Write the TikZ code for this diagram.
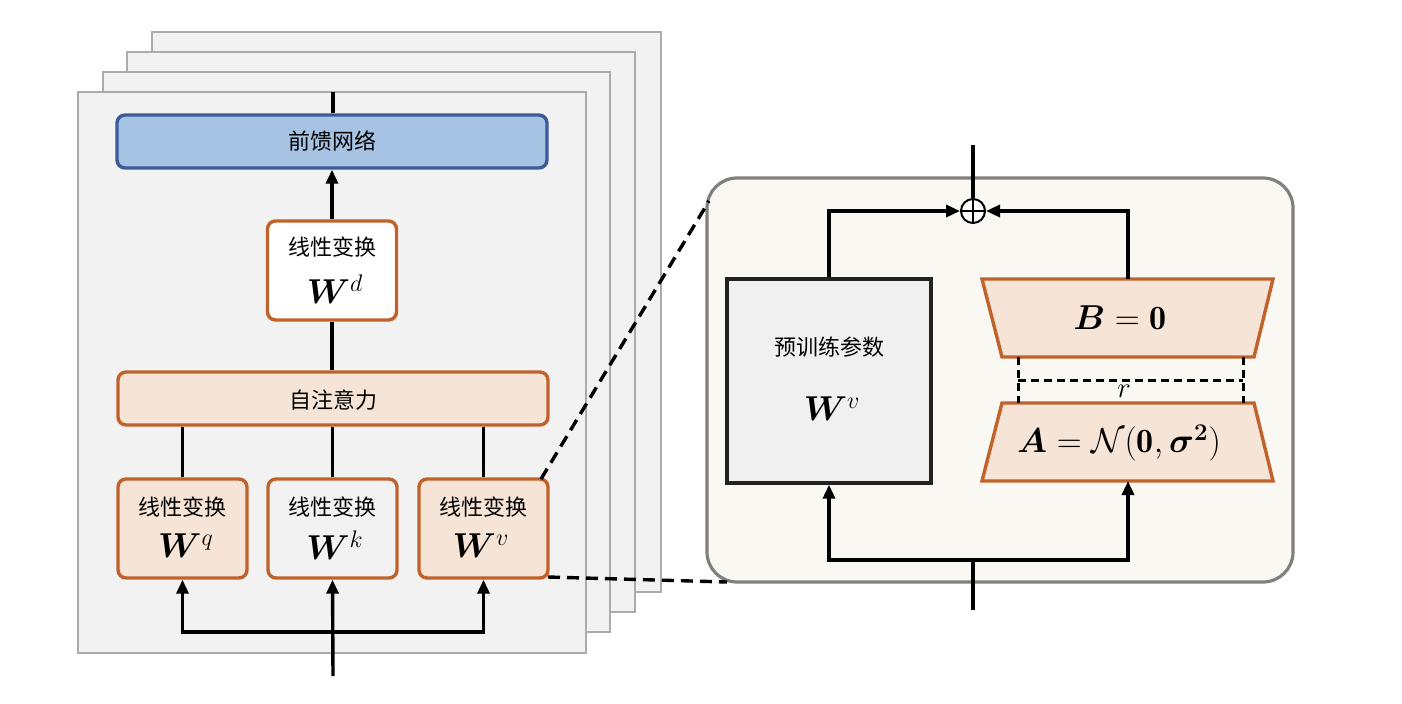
\documentclass[tikz,border=0pt]{standalone}
\usepackage{fontspec}
\usepackage{amsmath,amssymb,bm}
\newfontfamily\cjk{Noto Sans CJK SC}
\usetikzlibrary{arrows.meta,shapes.geometric,calc}
\definecolor{panelfill}{HTML}{F2F2F2}
\definecolor{panelborder}{HTML}{ABABAB}
\definecolor{ffnfill}{HTML}{A6C3E3}
\definecolor{ffnborder}{HTML}{3E5A97}
\definecolor{orangeb}{HTML}{C0622B}
\definecolor{peach}{HTML}{F6E4D7}
\definecolor{rpfill}{HTML}{F9F8F3}
\definecolor{rpborder}{HTML}{808080}
\definecolor{prefill}{HTML}{F0F0F0}
\definecolor{preborder}{HTML}{222222}
\begin{document}
\begin{tikzpicture}[x=0.5pt,y=-0.5pt,
  line/.style={line width=1.7pt},
  arr/.style={line width=1.7pt,-{Triangle[length=7pt,width=6pt]}},
  panel/.style={draw=panelborder,fill=panelfill,line width=1pt},
  obox/.style={draw=orangeb,line width=1.7pt,rounded corners=4pt,inner sep=0pt},
  smallbox/.style={obox,minimum width=64.5pt,minimum height=49.5pt},
  widebox/.style={obox,minimum width=215pt,minimum height=26.5pt},
  cjktext/.style={font=\cjk\fontsize{11}{13}\selectfont,inner sep=0pt},
  mtext/.style={font=\fontsize{17}{20}\selectfont,inner sep=0pt},
  zoomline/.style={line width=1.7pt,dash pattern=on 6pt off 3.5pt},
  rline/.style={line width=1.5pt,dash pattern=on 4pt off 2.5pt},
  trap/.style={draw=orangeb,fill=peach,line width=1.7pt}
]
\useasboundingbox (0,0) rectangle (1402,703);

% stacked panels
\draw[panel] (152,32) rectangle (661,592);
\draw[panel] (127,52) rectangle (635,612);
\draw[panel] (103,72) rectangle (610,632);
\draw[panel] (78,92) rectangle (586,653);

% left nodes
\node[obox,draw=ffnborder,fill=ffnfill,minimum width=215pt,minimum height=26.5pt] (ffn) at (332,141.5) {};
\node[cjktext] (ffnt) at (332,141.5) {前馈网络};
\node[smallbox,fill=white] (wd) at (332,270.5) {};
\node[cjktext] (wdt) at (332,247) {线性变换};
\node[mtext] (wdm) at (335,289) {$\bm{W}^{d}$};
\node[widebox,fill=peach] (attn) at (333,398.5) {};
\node[cjktext] (attnt) at (333,400) {自注意力};
\node[smallbox,fill=peach] (wq) at (182.5,528.5) {};
\node[cjktext] (wqt) at (182.5,507) {线性变换};
\node[mtext] (wqm) at (186,546) {$\bm{W}^{q}$};
\node[smallbox,fill=panelfill] (wk) at (332.5,528.5) {};
\node[cjktext] (wkt) at (332.5,507) {线性变换};
\node[mtext] (wkm) at (335,545) {$\bm{W}^{k}$};
\node[smallbox,fill=peach] (wv) at (483.5,528.5) {};
\node[cjktext] (wvt) at (483.5,507) {线性变换};
\node[mtext] (wvm) at (481,546) {$\bm{W}^{v}$};

\coordinate (ffnout) at (333,92);
\coordinate (in1) at (333,676);
\coordinate (split1) at (333,632);

\draw[line] (ffn.north -| ffnout) -- (ffnout);
\draw[arr] (wd.north) -- (ffn.south);
\draw[line] (attn.north -| wd.south) -- (wd.south);
\draw[line] (wq.north) -- (wq.north |- attn.south);
\draw[line] (wk.north) -- (wk.north |- attn.south);
\draw[line] (wv.north) -- (wv.north |- attn.south);
\draw[arr] (in1) -- (wk.south);
\draw[arr] (split1) -| (wq.south);
\draw[arr] (split1) -| (wv.south);

% right panel
\node[draw=rpborder,fill=rpfill,line width=1.6pt,rounded corners=15pt,minimum width=293pt,minimum height=202pt,inner sep=0pt] (rp) at (1000,380) {};

% zoom dashed lines
\coordinate (z1) at (541,479);
\coordinate (z2) at (709,201);
\coordinate (z3) at (548,577);
\coordinate (z4) at (727,582);
\draw[zoomline] (z1) -- (z2);
\draw[zoomline] (z3) -- (z4);

\node[draw=preborder,fill=prefill,line width=1.7pt,minimum width=102pt,minimum height=102pt,inner sep=0pt] (pre) at (829,381) {};
\node[cjktext] (pret) at (829,347) {预训练参数};
\node[mtext] (prem) at (832,409) {$\bm{W}^{v}$};

% trapezoids
\draw[trap] (982,279) -- (1273,279) -- (1254,357) -- (1002,357) -- cycle;
\draw[trap] (1002,403) -- (1254,403) -- (1273,481) -- (982,481) -- cycle;
\node[mtext] (bt) at (1120,318) {$\bm{B} = \mathbf{0}$};
\node[mtext] (at) at (1119,443) {$\bm{A} = \mathcal{N}(\mathbf{0},\bm{\sigma^{2}})$};
\coordinate (btop) at (1128,279);
\coordinate (abot) at (1128,481);

% rank marker
\coordinate (r1) at (1018,357);
\coordinate (r2) at (1243,357);
\coordinate (r3) at (1018,403);
\coordinate (r4) at (1243,403);
\draw[rline] (r1) -- (r3);
\draw[rline] (r2) -- (r4);
\draw[rline] ($(r1)!0.5!(r3)$) -- ($(r2)!0.5!(r4)$);
\node[font=\fontsize{15}{18}\selectfont,inner sep=0pt] (rl) at (1124,391) {$r$};

% oplus
\node[draw,circle,line width=1pt,minimum size=12pt,inner sep=0pt,fill=white] (plus) at (973,211) {};
\draw[line width=1pt] (plus.north) -- (plus.south) (plus.west) -- (plus.east);
\coordinate (out2) at (973,145);
\coordinate (in2) at (973,610);
\coordinate (split2) at (973,560);
\draw[line] (plus.north) -- (out2);
\draw[arr] (pre.north) |- (plus.west);
\draw[arr] (btop) |- (plus.east);
\draw[line] (in2) -- (split2);
\draw[arr] (split2) -| (pre.south);
\draw[arr] (split2) -| (abot);
\end{tikzpicture}
\end{document}
